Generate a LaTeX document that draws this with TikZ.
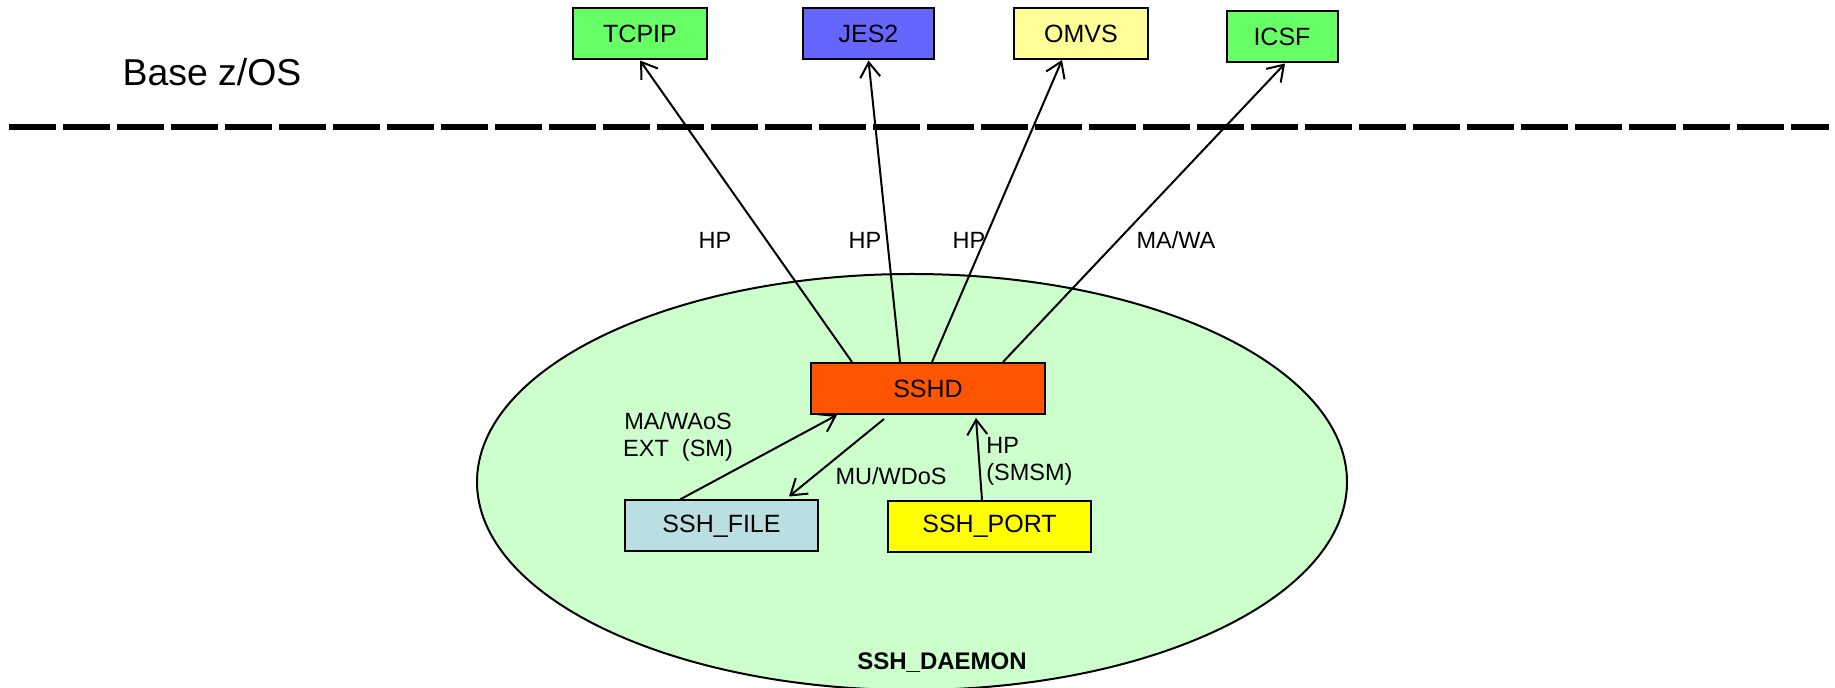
\documentclass[tikz,border=0pt]{standalone}
\usepackage{fontspec}
\setmainfont{Liberation Sans}
\usetikzlibrary{arrows.meta}
\usetikzlibrary{positioning}
\usetikzlibrary{shapes.geometric}
\definecolor{subsysgreen}{HTML}{66FF66}
\definecolor{jesblue}{HTML}{6666FF}
\definecolor{omvsyellow}{HTML}{FFFF99}
\definecolor{sshdorange}{HTML}{FF5500}
\definecolor{portyellow}{HTML}{FFFF00}
\definecolor{fileblue}{HTML}{B9DFE3}
\definecolor{daemongreen}{HTML}{CCFFCC}
\tikzset {
  sys box/.style = {
    draw = black,
    line width = 1pt,
    rectangle,
    minimum height = 25.5pt,
    font = \fontsize{12.5}{14}\selectfont
  },
  % z/OS subsystem above the line
  subsys/.style = {
    sys box,
    minimum width = 67pt
  },
  % component inside the daemon
  part/.style = {
    sys box,
    minimum width = 98pt
  },
  % daemon region
  daemon/.style = {
    draw = black,
    line width = 1pt,
    ellipse,
    fill = daemongreen,
    minimum width = 435pt,
    minimum height = 208pt
  }
}
\tikzset {
  % call from one component to another
  call/.style = {
    draw = black,
    line width = 1pt,
    -{Straight Barb[length = 7.5pt, width = 10pt, line width = 1pt]}
  },
  lbl/.style = {
    font = \fontsize{11.75}{13.5}\selectfont,
    inner sep = 0,
    align = center
  },
  border line/.style = {
    draw = black,
    line width = 3pt,
    dash pattern = on 23.5pt off 3.5pt
  }
}

\begin{document}
\begin{tikzpicture}[x = 0.5pt, y = -0.5pt]
    \useasboundingbox (0, 0) rectangle (1835, 688);
    \node[daemon] (daemon) at (912, 482) {};
    \node[lbl, font = \bfseries\fontsize{12}{14}\selectfont] (daemon-lbl) at (942, 663) {SSH\_DAEMON};

    \node[font = \fontsize{18.7}{22}\selectfont] (base) at (212, 72) {Base z/OS};
    \coordinate (line-w) at (9, 127);
    \coordinate (line-e) at (1829, 127);
    \path[border line] (line-w) -- (line-e);

    \node[subsys, fill = subsysgreen] (tcpip) at (640, 34) {TCPIP};
    \node[subsys, fill = jesblue, minimum width = 65.5pt] (jes) at (868.5, 34) {JES2};
    \node[subsys, fill = omvsyellow] (omvs) at (1081, 33.5) {OMVS};
    \node[subsys, fill = subsysgreen, minimum width = 55.5pt] (icsf) at (1282, 37) {ICSF};

    \node[sys box, fill = sshdorange, minimum width = 117pt] (sshd) at (928, 388.5) {SSHD};
    \node[part, fill = fileblue, minimum width = 96.5pt] (file) at (721.5, 526) {SSH\_FILE};
    \node[part, fill = portyellow, minimum width = 101.5pt] (port) at (989.5, 526.5) {SSH\_PORT};

    \draw[call] ([xshift = 21pt]sshd.north west) -- (tcpip.south);
    \draw[call] ([xshift = 45pt]sshd.north west) -- (jes.south);
    \draw[call] ([xshift = 61pt]sshd.north west) -- ([xshift = -9.5pt]omvs.south);
    \draw[call] ([xshift = 96.5pt]sshd.north west) -- ([xshift = 1.5pt]icsf.south);
    \draw[call] ([xshift = -20.75pt]file.north) -- ([xshift = 13.5pt]sshd.south west);
    \draw[call] ([xshift = 37pt, yshift = -2pt]sshd.south west) -- ([xshift = 33.75pt, yshift = 1.5pt]file.north);
    \draw[call] ([xshift = -3.75pt]port.north) -- ([xshift = 83pt, yshift = -1.5pt]sshd.south west);

    \node[lbl] (tcpip-lbl) at (715, 240) {HP};
    \node[lbl] (jes-lbl) at (865, 240) {HP};
    \node[lbl] (omvs-lbl) at (969, 240) {HP};
    \node[lbl] (icsf-lbl) at (1176, 240) {MA/WA};
    \node[lbl] (file-in-lbl) at (678, 437) {MA/WAoS\\EXT~~(SM)};
    \node[lbl] (file-out-lbl) at (891, 476) {MU/WDoS};
    \node[lbl, align = left, anchor = west] (port-lbl) at (986, 461) {HP\\(SMSM)};
\end{tikzpicture}
\end{document}
